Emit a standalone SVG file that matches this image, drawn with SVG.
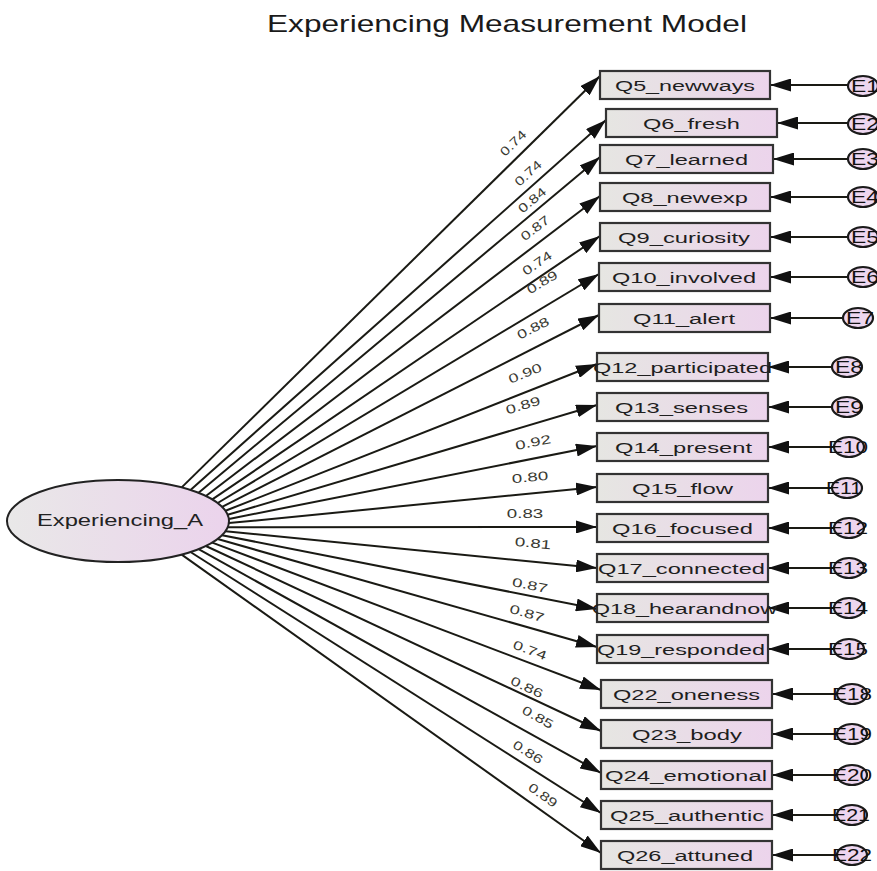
<svg xmlns="http://www.w3.org/2000/svg" width="877" height="871" viewBox="0 0 877 871">
<defs>
<linearGradient id="gb" x1="0" y1="0" x2="1" y2="0"><stop offset="0" stop-color="#e6e6e2"/><stop offset="1" stop-color="#ecd4ec"/></linearGradient>
<linearGradient id="ge" x1="0" y1="0" x2="1" y2="0"><stop offset="0" stop-color="#e9e8e8"/><stop offset="1" stop-color="#ebd3ec"/></linearGradient>
<marker id="ah" markerUnits="userSpaceOnUse" markerWidth="22" markerHeight="13" refX="21" refY="6.5" orient="auto"><path d="M0,0 L21,6.5 L0,13 z" fill="#111"/></marker>
<style>
.box{fill:url(#gb);stroke:#333;stroke-width:2.2}
.err{fill:#edd6ef;stroke:#1a1a1a;stroke-width:2.2}
.t{font-family:"Liberation Sans",Arial,sans-serif;font-size:15.5px;fill:#1e1e1e;text-anchor:middle}
.et{font-family:"Liberation Sans",Arial,sans-serif;font-size:16px;fill:#111;text-anchor:middle}
.lb{font-family:"Liberation Sans",Arial,sans-serif;font-size:12.5px;fill:#3a3a32;text-anchor:middle}
.c line{stroke:#1a1a14;stroke-width:2;marker-end:url(#ah)}
</style>
</defs>
<rect width="877" height="871" fill="#fff"/>
<text x="267" y="32" font-family="'Liberation Sans',Arial,sans-serif" font-size="24" fill="#1a1a1a" textLength="480" lengthAdjust="spacingAndGlyphs">Experiencing Measurement Model</text>

<g id="connectors" class="c">
<line x1="181.7" y1="487.4" x2="600" y2="76"/>
<line x1="190.5" y1="490" x2="606" y2="120"/>
<line x1="198.6" y1="492.8" x2="600" y2="157"/>
<line x1="205.9" y1="496" x2="600" y2="196"/>
<line x1="212.3" y1="499.4" x2="600" y2="236"/>
<line x1="217.7" y1="503" x2="599" y2="274"/>
<line x1="222.1" y1="506.8" x2="599" y2="315"/>
<line x1="225.5" y1="510.8" x2="597" y2="364"/>
<line x1="227.7" y1="514.8" x2="597" y2="405"/>
<line x1="228.9" y1="518.9" x2="597" y2="446"/>
<line x1="228.9" y1="523.1" x2="597" y2="487"/>
<line x1="227.7" y1="527.2" x2="597" y2="527"/>
<line x1="225.5" y1="531.2" x2="597" y2="568"/>
<line x1="222.1" y1="535.2" x2="597" y2="609"/>
<line x1="217.7" y1="539" x2="597" y2="647"/>
<line x1="212.3" y1="542.6" x2="601" y2="690"/>
<line x1="205.9" y1="546" x2="601" y2="731"/>
<line x1="198.6" y1="549.2" x2="601" y2="773"/>
<line x1="190.5" y1="552" x2="601" y2="813"/>
<line x1="181.7" y1="554.6" x2="601" y2="853"/>
<line x1="848" y1="85" x2="770" y2="85"/>
<line x1="848" y1="123" x2="777" y2="123"/>
<line x1="848" y1="159" x2="773" y2="159"/>
<line x1="848" y1="197" x2="770" y2="197"/>
<line x1="848" y1="237" x2="770" y2="237"/>
<line x1="848" y1="277" x2="770" y2="277"/>
<line x1="843" y1="318" x2="770" y2="318"/>
<line x1="832" y1="367" x2="768" y2="367"/>
<line x1="832" y1="407" x2="768" y2="407"/>
<line x1="833" y1="447" x2="768" y2="447"/>
<line x1="833" y1="488" x2="768" y2="488"/>
<line x1="833" y1="528" x2="768" y2="528"/>
<line x1="833" y1="568" x2="768" y2="568"/>
<line x1="833" y1="608" x2="768" y2="608"/>
<line x1="833" y1="649" x2="768" y2="649"/>
<line x1="836" y1="694" x2="772" y2="694"/>
<line x1="836" y1="734" x2="772" y2="734"/>
<line x1="836" y1="775" x2="772" y2="775"/>
<line x1="836" y1="815" x2="772" y2="815"/>
<line x1="836" y1="855" x2="772" y2="855"/>
</g>

<g id="loadings">
<text class="lb" transform="translate(513,143) rotate(-44.5)" y="4.5" textLength="31" lengthAdjust="spacingAndGlyphs">0.74</text>
<text class="lb" transform="translate(528,173) rotate(-41.7)" y="4.5" textLength="31.7" lengthAdjust="spacingAndGlyphs">0.74</text>
<text class="lb" transform="translate(532,200) rotate(-39.9)" y="4.5" textLength="32" lengthAdjust="spacingAndGlyphs">0.84</text>
<text class="lb" transform="translate(535,228) rotate(-37.3)" y="4.5" textLength="32.5" lengthAdjust="spacingAndGlyphs">0.87</text>
<text class="lb" transform="translate(537,263) rotate(-34.2)" y="4.5" textLength="33" lengthAdjust="spacingAndGlyphs">0.74</text>
<text class="lb" transform="translate(542,282) rotate(-31)" y="4.5" textLength="33.7" lengthAdjust="spacingAndGlyphs">0.89</text>
<text class="lb" transform="translate(533,328) rotate(-27)" y="4.5" textLength="34.3" lengthAdjust="spacingAndGlyphs">0.88</text>
<text class="lb" transform="translate(525,373) rotate(-21.6)" y="4.5" textLength="35" lengthAdjust="spacingAndGlyphs">0.90</text>
<text class="lb" transform="translate(523,405) rotate(-16.6)" y="4.5" textLength="35.6" lengthAdjust="spacingAndGlyphs">0.89</text>
<text class="lb" transform="translate(533,442) rotate(-11.2)" y="4.5" textLength="36" lengthAdjust="spacingAndGlyphs">0.92</text>
<text class="lb" transform="translate(530,477) rotate(-5.6)" y="4.5" textLength="36.4" lengthAdjust="spacingAndGlyphs">0.80</text>
<text class="lb" transform="translate(525,513)" y="4.5" textLength="36.4" lengthAdjust="spacingAndGlyphs">0.83</text>
<text class="lb" transform="translate(533,543) rotate(5.7)" y="4.5" textLength="36.4" lengthAdjust="spacingAndGlyphs">0.81</text>
<text class="lb" transform="translate(530,585) rotate(11.1)" y="4.5" textLength="36" lengthAdjust="spacingAndGlyphs">0.87</text>
<text class="lb" transform="translate(527,613) rotate(15.9)" y="4.5" textLength="35.6" lengthAdjust="spacingAndGlyphs">0.87</text>
<text class="lb" transform="translate(530,650) rotate(20.8)" y="4.5" textLength="35" lengthAdjust="spacingAndGlyphs">0.74</text>
<text class="lb" transform="translate(527,687) rotate(25.1)" y="4.5" textLength="34.3" lengthAdjust="spacingAndGlyphs">0.86</text>
<text class="lb" transform="translate(538,717) rotate(29.1)" y="4.5" textLength="33.7" lengthAdjust="spacingAndGlyphs">0.85</text>
<text class="lb" transform="translate(528,752) rotate(32.4)" y="4.5" textLength="33" lengthAdjust="spacingAndGlyphs">0.86</text>
<text class="lb" transform="translate(543,795) rotate(35.4)" y="4.5" textLength="32.5" lengthAdjust="spacingAndGlyphs">0.89</text>
</g>

<g id="Experiencing_A">
<ellipse cx="118" cy="521" rx="111" ry="41" fill="url(#ge)" stroke="#222" stroke-width="2"/>
<text x="120" y="526" font-family="'Liberation Sans',Arial,sans-serif" font-size="16" fill="#222" text-anchor="middle" textLength="166" lengthAdjust="spacingAndGlyphs">Experiencing_A</text>
</g>

<g id="Q5"><rect class="box" x="600" y="71" width="170" height="28"/><text class="t" x="685" y="90.5" textLength="140" lengthAdjust="spacingAndGlyphs">Q5_newways</text></g>
<g id="Q6"><rect class="box" x="606" y="109" width="171" height="28"/><text class="t" x="691.5" y="128.5" textLength="97" lengthAdjust="spacingAndGlyphs">Q6_fresh</text></g>
<g id="Q7"><rect class="box" x="600" y="145" width="173" height="28"/><text class="t" x="686.5" y="164.5" textLength="123" lengthAdjust="spacingAndGlyphs">Q7_learned</text></g>
<g id="Q8"><rect class="box" x="600" y="183" width="170" height="28"/><text class="t" x="685" y="202.5" textLength="126" lengthAdjust="spacingAndGlyphs">Q8_newexp</text></g>
<g id="Q9"><rect class="box" x="600" y="223" width="170" height="28"/><text class="t" x="684" y="242.5" textLength="132" lengthAdjust="spacingAndGlyphs">Q9_curiosity</text></g>
<g id="Q10"><rect class="box" x="599" y="263" width="171" height="28"/><text class="t" x="684" y="282.5" textLength="144" lengthAdjust="spacingAndGlyphs">Q10_involved</text></g>
<g id="Q11"><rect class="box" x="599" y="304" width="171" height="28"/><text class="t" x="684" y="323.5" textLength="102" lengthAdjust="spacingAndGlyphs">Q11_alert</text></g>
<g id="Q12"><rect class="box" x="597" y="353" width="171" height="28"/><text class="t" x="682.5" y="372.5" textLength="179" lengthAdjust="spacingAndGlyphs">Q12_participated</text></g>
<g id="Q13"><rect class="box" x="597" y="393" width="171" height="28"/><text class="t" x="681.5" y="412.5" textLength="133" lengthAdjust="spacingAndGlyphs">Q13_senses</text></g>
<g id="Q14"><rect class="box" x="597" y="433" width="171" height="28"/><text class="t" x="683.5" y="452.5" textLength="137" lengthAdjust="spacingAndGlyphs">Q14_present</text></g>
<g id="Q15"><rect class="box" x="597" y="474" width="171" height="28"/><text class="t" x="682.5" y="493.5" textLength="101" lengthAdjust="spacingAndGlyphs">Q15_flow</text></g>
<g id="Q16"><rect class="box" x="597" y="514" width="171" height="28"/><text class="t" x="682.5" y="533.5" textLength="141" lengthAdjust="spacingAndGlyphs">Q16_focused</text></g>
<g id="Q17"><rect class="box" x="597" y="554" width="171" height="28"/><text class="t" x="681.5" y="573.5" textLength="167" lengthAdjust="spacingAndGlyphs">Q17_connected</text></g>
<g id="Q18"><rect class="box" x="597" y="594" width="171" height="28"/><text class="t" x="684.5" y="613.5" textLength="185" lengthAdjust="spacingAndGlyphs">Q18_hearandnow</text></g>
<g id="Q19"><rect class="box" x="597" y="635" width="171" height="28"/><text class="t" x="681" y="654.5" textLength="168" lengthAdjust="spacingAndGlyphs">Q19_responded</text></g>
<g id="Q22"><rect class="box" x="601" y="680" width="171" height="28"/><text class="t" x="686.5" y="699.5" textLength="147" lengthAdjust="spacingAndGlyphs">Q22_oneness</text></g>
<g id="Q23"><rect class="box" x="601" y="720" width="171" height="28"/><text class="t" x="687" y="739.5" textLength="110" lengthAdjust="spacingAndGlyphs">Q23_body</text></g>
<g id="Q24"><rect class="box" x="601" y="761" width="171" height="28"/><text class="t" x="686" y="780.5" textLength="162" lengthAdjust="spacingAndGlyphs">Q24_emotional</text></g>
<g id="Q25"><rect class="box" x="601" y="801" width="171" height="28"/><text class="t" x="687" y="820.5" textLength="154" lengthAdjust="spacingAndGlyphs">Q25_authentic</text></g>
<g id="Q26"><rect class="box" x="601" y="841" width="171" height="28"/><text class="t" x="685" y="860.5" textLength="136" lengthAdjust="spacingAndGlyphs">Q26_attuned</text></g>

<g id="E1"><ellipse class="err" cx="863" cy="86" rx="15" ry="10"/><text class="et" x="865" y="92" textLength="28" lengthAdjust="spacingAndGlyphs">E1</text></g>
<g id="E2"><ellipse class="err" cx="863" cy="124" rx="15" ry="10"/><text class="et" x="865" y="130" textLength="28" lengthAdjust="spacingAndGlyphs">E2</text></g>
<g id="E3"><ellipse class="err" cx="863" cy="159" rx="15" ry="10"/><text class="et" x="865" y="165" textLength="28" lengthAdjust="spacingAndGlyphs">E3</text></g>
<g id="E4"><ellipse class="err" cx="863" cy="197" rx="15" ry="10"/><text class="et" x="865" y="203" textLength="28" lengthAdjust="spacingAndGlyphs">E4</text></g>
<g id="E5"><ellipse class="err" cx="863" cy="237" rx="15" ry="10"/><text class="et" x="865" y="243" textLength="28" lengthAdjust="spacingAndGlyphs">E5</text></g>
<g id="E6"><ellipse class="err" cx="863" cy="277" rx="15" ry="10"/><text class="et" x="865" y="283" textLength="28" lengthAdjust="spacingAndGlyphs">E6</text></g>
<g id="E7"><ellipse class="err" cx="858" cy="318" rx="15" ry="10"/><text class="et" x="860" y="324" textLength="28" lengthAdjust="spacingAndGlyphs">E7</text></g>
<g id="E8"><ellipse class="err" cx="847" cy="367" rx="15" ry="10"/><text class="et" x="849" y="373" textLength="28" lengthAdjust="spacingAndGlyphs">E8</text></g>
<g id="E9"><ellipse class="err" cx="847" cy="407" rx="15" ry="10"/><text class="et" x="849" y="413" textLength="28" lengthAdjust="spacingAndGlyphs">E9</text></g>
<g id="E10"><ellipse class="err" cx="849" cy="447" rx="15" ry="10"/><text class="et" x="848" y="453" textLength="40" lengthAdjust="spacingAndGlyphs">E10</text></g>
<g id="E11"><ellipse class="err" cx="847" cy="488" rx="15" ry="10"/><text class="et" x="844" y="494" textLength="36" lengthAdjust="spacingAndGlyphs">E11</text></g>
<g id="E12"><ellipse class="err" cx="849" cy="528" rx="15" ry="10"/><text class="et" x="848" y="534" textLength="40" lengthAdjust="spacingAndGlyphs">E12</text></g>
<g id="E13"><ellipse class="err" cx="849" cy="568" rx="15" ry="10"/><text class="et" x="848" y="574" textLength="40" lengthAdjust="spacingAndGlyphs">E13</text></g>
<g id="E14"><ellipse class="err" cx="849" cy="608" rx="15" ry="10"/><text class="et" x="848" y="614" textLength="40" lengthAdjust="spacingAndGlyphs">E14</text></g>
<g id="E15"><ellipse class="err" cx="849" cy="649" rx="15" ry="10"/><text class="et" x="848" y="655" textLength="40" lengthAdjust="spacingAndGlyphs">E15</text></g>
<g id="E18"><ellipse class="err" cx="852" cy="694" rx="15" ry="10"/><text class="et" x="852" y="700" textLength="40" lengthAdjust="spacingAndGlyphs">E18</text></g>
<g id="E19"><ellipse class="err" cx="852" cy="734" rx="15" ry="10"/><text class="et" x="852" y="740" textLength="40" lengthAdjust="spacingAndGlyphs">E19</text></g>
<g id="E20"><ellipse class="err" cx="852" cy="775" rx="15" ry="10"/><text class="et" x="852" y="781" textLength="40" lengthAdjust="spacingAndGlyphs">E20</text></g>
<g id="E21"><ellipse class="err" cx="852" cy="815" rx="15" ry="10"/><text class="et" x="851" y="821" textLength="38" lengthAdjust="spacingAndGlyphs">E21</text></g>
<g id="E22"><ellipse class="err" cx="852" cy="855" rx="15" ry="10"/><text class="et" x="852" y="861" textLength="40" lengthAdjust="spacingAndGlyphs">E22</text></g>
</svg>
